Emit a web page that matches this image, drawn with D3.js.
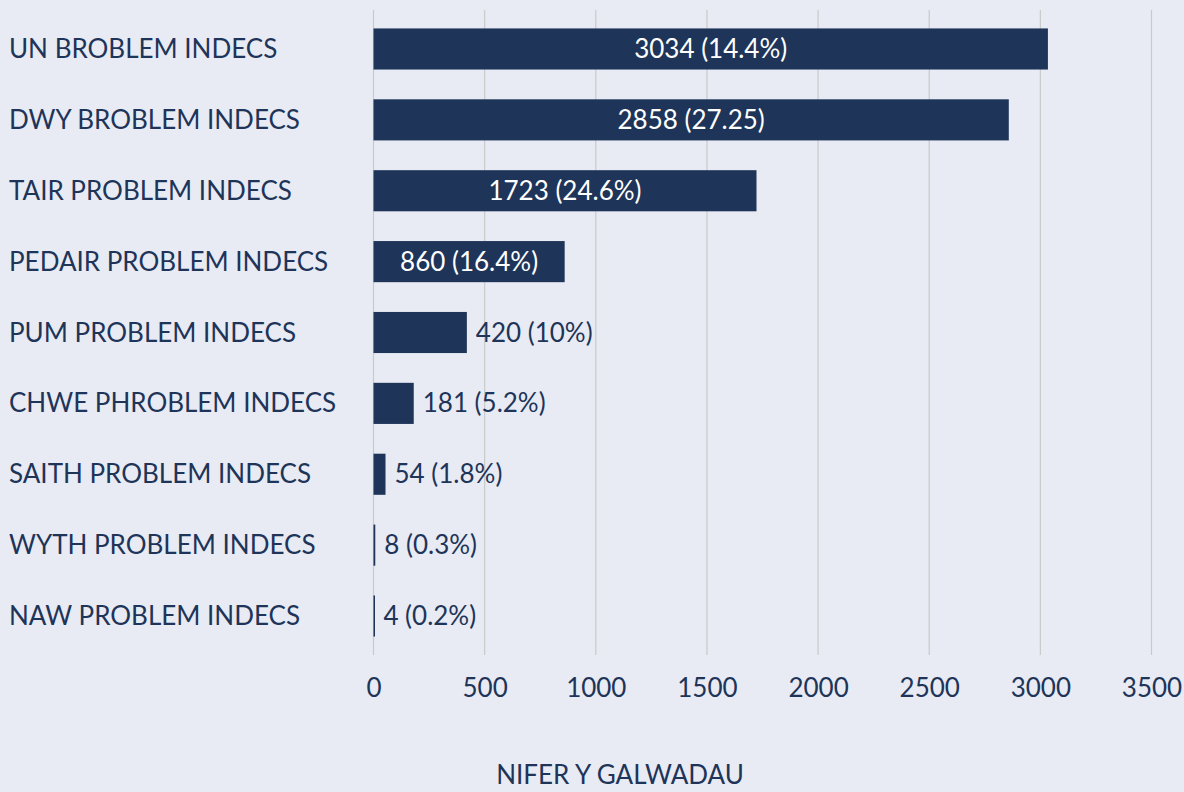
<!DOCTYPE html>
<html><head><meta charset="utf-8">
<script src="https://cdn.jsdelivr.net/npm/d3@7"></script>
<style>
html,body{margin:0;padding:0;background:#e8ebf3;}
svg{display:block;}
text{font-family:Lato, sans-serif;}
</style></head><body>
<svg id="c" width="1184" height="792"></svg>
<script>
const categories = ["UN BROBLEM INDECS","DWY BROBLEM INDECS","TAIR PROBLEM INDECS","PEDAIR PROBLEM INDECS","PUM PROBLEM INDECS","CHWE PHROBLEM INDECS","SAITH PROBLEM INDECS","WYTH PROBLEM INDECS","NAW PROBLEM INDECS"];
const values = [3034, 2858, 1723, 860, 420, 181, 54, 8, 4];
const valueLabels = ["3034 (14.4%)","2858 (27.25)","1723 (24.6%)","860 (16.4%)","420 (10%)","181 (5.2%)","54 (1.8%)","8 (0.3%)","4 (0.2%)"];
const xTicks = [0,500,1000,1500,2000,2500,3000,3500];
const axisTitle = "NIFER Y GALWADAU";

const navy = "#1e3459";
const fs = 26;
const svg = d3.select("#c");
const x = d3.scaleLinear().domain([0,3500]).range([373.5,1151.5]);
const y = d3.scaleBand().domain(categories).range([10,655]).paddingInner(0.42).paddingOuter(0.26);

// grid
svg.append("g").selectAll("line").data(xTicks).join("line")
  .attr("x1",d=>x(d)).attr("x2",d=>x(d)).attr("y1",10).attr("y2",655)
  .attr("stroke","#c9c9c9").attr("stroke-width",1.2);

// axis labels
const xa = svg.append("g").attr("transform","translate(0,655)")
  .call(d3.axisBottom(x).tickValues(xTicks).tickSize(0).tickPadding(24).tickFormat(d3.format("d")));
xa.select(".domain").remove();
xa.selectAll("text").attr("fill",navy).attr("font-size",fs).style("font-family","Lato, sans-serif");

// category labels
const ya = svg.append("g").attr("transform","translate(9,0)")
  .call(d3.axisLeft(y).tickSize(0).tickPadding(0));
ya.select(".domain").remove();
ya.selectAll("text").attr("text-anchor","start").attr("fill",navy).attr("font-size",fs).style("font-family","Lato, sans-serif").attr("dy","0.35em");

// bars
svg.append("g").selectAll("rect").data(values).join("rect")
  .attr("x",x(0)).attr("y",(d,i)=>y(categories[i]))
  .attr("width",d=>Math.max(1.5,x(d)-x(0))).attr("height",y.bandwidth())
  .attr("fill",navy);

// value labels
svg.append("g").selectAll("text").data(values).join("text")
  .attr("x",(d,i)=> d>=800 ? (x(0)+x(d))/2 : x(d)+9)
  .attr("y",(d,i)=>y(categories[i])+y.bandwidth()/2)
  .attr("dy","0.35em")
  .attr("text-anchor",d=> d>=800 ? "middle":"start")
  .attr("fill",d=> d>=800 ? "#ffffff" : navy)
  .attr("font-size",fs)
  .text((d,i)=>valueLabels[i]);

svg.append("text").attr("x",620).attr("y",775).attr("dy","0.35em").attr("text-anchor","middle")
  .attr("fill",navy).attr("font-size",fs).text(axisTitle);
</script>
</body></html>
